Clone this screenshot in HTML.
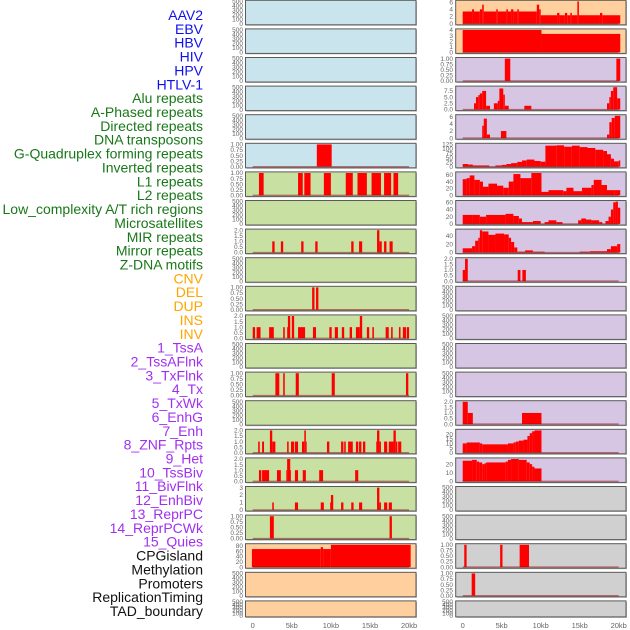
<!DOCTYPE html>
<html><head><meta charset="utf-8">
<style>
html,body{margin:0;padding:0;background:#fff;}
svg{display:block;font-family:"Liberation Sans",sans-serif;}
</style></head>
<body>
<svg id="chart" width="630" height="630" viewBox="0 0 630 630" xmlns="http://www.w3.org/2000/svg"></svg>
<script>
// ---- data (kb start, kb end, value) ----
const trackLabels = ["AAV2","EBV","HBV","HIV","HPV","HTLV-1","Alu repeats","A-Phased repeats","Directed repeats","DNA transposons","G-Quadruplex forming repeats","Inverted repeats","L1 repeats","L2 repeats","Low_complexity A/T rich regions","Microsatellites","MIR repeats","Mirror repeats","Z-DNA motifs","CNV","DEL","DUP","INS","INV","1_TssA","2_TssAFlnk","3_TxFlnk","4_Tx","5_TxWk","6_EnhG","7_Enh","8_ZNF_Rpts","9_Het","10_TssBiv","11_BivFlnk","12_EnhBiv","13_ReprPC","14_ReprPCWk","15_Quies","CPGisland","Methylation","Promoters","ReplicationTiming","TAD_boundary"];
const labelColors = ["#1010ee","#1010ee","#1010ee","#1010ee","#1010ee","#1010ee","#187818","#187818","#187818","#187818","#187818","#187818","#187818","#187818","#187818","#187818","#187818","#187818","#187818","#ffa500","#ffa500","#ffa500","#ffa500","#ffa500","#a030f0","#a030f0","#a030f0","#a030f0","#a030f0","#a030f0","#a030f0","#a030f0","#a030f0","#a030f0","#a030f0","#a030f0","#a030f0","#a030f0","#a030f0","#111","#111","#111","#111","#111"];
const xTickValues = [0,5,10,15,20];
const xTickLabels = ["0","5kb","10kb","15kb","20kb"];

const L5 = [[8.2,10.1,1]];
const L6 = [[0.8,1.4,1],[5.8,6.4,1],[6.6,7.4,1],[9.1,10,1],[11.9,12.8,1],[13.4,14.6,1],[15.2,16.4,1],[16.8,17.7,1],[18,18.6,1]];
const L8 = [[2.5,2.8,1],[3.6,3.9,1],[6.2,6.5,1],[8,8.3,1],[12.6,12.9,1],[13.6,14,1],[15.9,16.2,2],[16.2,16.5,1],[16.8,17.1,1],[17.5,17.9,1]];
const L10 = [[7.6,7.9,1],[8.1,8.4,1]];
const L11 = [[0,0.3,1],[0.5,1,1],[2.1,2.7,1],[3.9,4.1,1],[4.4,4.5,1],[4.5,4.8,2],[5,5.3,2],[5.8,6.7,1],[7.7,8.1,1],[9.8,10.1,1],[10.5,10.9,1],[11.4,11.7,1],[12.4,12.7,1],[13.2,13.7,1],[13.7,14,2],[14.6,14.9,1],[15.3,15.5,1],[17,17.4,1],[17.7,17.9,1],[18.7,18.9,1],[19.2,19.6,1],[19.7,20,1]];
const L13 = [[2.9,3.4,1],[3.9,4.1,1],[5.5,5.9,1],[10.1,10.5,1],[19.6,19.9,1]];
const L15 = [[0.7,0.9,1],[1.2,1.45,1],[2.2,2.5,2],[2.5,2.9,1],[4.4,4.6,1],[4.9,5.3,1],[5.4,5.8,1],[6.3,6.6,1],[6.6,6.8,2],[6.8,6.9,1],[9.5,9.8,1],[11.3,11.6,1],[11.7,11.9,1],[12.2,12.8,1],[13.2,13.5,1],[13.6,13.9,1],[14.1,14.4,1],[15.8,15.9,1],[15.9,16.2,2],[16.2,16.4,1],[16.8,17.2,1],[17.4,18,1],[18,18.3,2],[18.3,18.5,1],[18.6,19,1]];
const L16 = [[0.8,1.1,1],[1.2,2.1,1],[3.1,3.6,1],[4.3,4.4,1],[4.4,4.8,2],[4.8,4.9,1],[5.4,5.8,1],[6.4,6.8,1],[8.5,9,1],[13.1,13.5,1]];
const L17 = [[2.5,2.7,1],[5.4,5.8,1],[8.7,9.1,1],[9.9,10,1],[10,10.3,2],[11.3,11.6,1],[12.6,12.9,1],[13.6,14,1],[15.9,16.2,3],[16.2,16.4,1],[16.8,17.2,1],[17.4,17.8,1]];
const L18 = [[2.2,2.7,1],[17.5,17.8,1]];
const L19 = [[-0.1,8.7,68],[8.7,9.0,75],[9.0,10,68],[10,20.2,84]];

const R0 = [[0,1.2,3.4],[1.2,1.45,4],[1.45,2.2,3.4],[2.2,2.5,4],[2.5,2.7,5.3],[2.7,4.3,3.4],[4.3,4.5,4],[4.5,5.6,3.4],[5.6,5.8,4],[5.8,6.2,3.4],[6.2,6.5,4],[6.5,7,3.4],[7,7.2,4],[7.2,9.5,3.4],[9.5,9.8,5.3],[9.8,10,4],[10,12.1,2.35],[12.1,12.4,3],[12.4,13.1,2.35],[13.1,13.4,3],[13.4,13.8,2.35],[13.8,14,3],[14,14.7,2.35],[14.7,14.9,6.2],[14.9,17.6,2.35],[17.6,17.9,3],[17.9,20.2,2.35]];
const R1 = [[0,10.1,4],[10.1,20.2,3.3]];
const R2 = [[5.4,6.1,1],[19.7,20.2,1]];
const R3 = [[1.45,1.7,2.5],[1.7,2,5],[2,2.2,5.8],[2.2,2.5,6.5],[2.5,3,7.5],[3,3.5,1.5],[4,4.5,2.5],[4.5,4.7,3.5],[4.7,5.2,8.5],[5.2,5.4,6],[5.4,5.9,1.5],[7.9,8.8,1.5],[18.5,18.8,2.5],[18.8,19,5],[19,19.3,7.5],[19.3,19.8,9],[19.8,20.2,4.5]];
const R4 = [[2.5,2.7,3.5],[2.7,3.1,5.5],[3.1,3.5,1],[4.9,5.6,2],[18.5,18.8,1],[18.8,19.1,4.5],[19.1,19.5,5.7],[19.5,20.2,6.3]];
const R5 = [[0,0.7,15],[0.7,1.3,12],[1.3,3.4,7],[4.2,5,7],[5,5.6,10],[5.6,6.2,15],[6.2,7,20],[7,7.6,27],[7.6,8.2,35],[8.2,9.2,40],[9.2,10,32],[10,10.6,28],[10.6,12,118],[12,13,120],[13,14,112],[14,15,118],[15,16,110],[16,17,105],[17,18,95],[18,18.5,88],[18.5,19,70],[19,19.4,45],[19.4,20,30],[20,20.2,35]];
const R6 = [[0,0.5,47],[0.5,0.9,50],[0.9,1.5,58],[1.5,2.2,45],[2.2,2.6,40],[2.6,3.3,25],[3.3,4.4,34],[4.4,5.2,28],[5.2,5.9,22],[5.9,6.5,40],[6.5,7.4,62],[7.4,8.8,50],[8.8,10.1,65],[10.1,11,10],[11,12.9,15],[12.9,13.3,12],[13.3,14.2,22],[14.2,15.3,12],[15.3,16.5,22],[16.5,16.8,30],[16.8,17.8,45],[17.8,18.5,30],[18.5,19.5,15],[19.5,20.2,15]];
const R7 = [[0,1.2,25],[1.2,2.2,25],[2.2,3,20],[3,5.5,25],[5.5,6.5,28],[6.5,7.2,22],[7.2,7.6,15],[7.6,9,5],[9,10,8],[10.5,11,5],[11,12,10],[12,12.8,5],[14.8,15.2,10],[15.2,15.8,15],[15.8,16.5,12],[16.5,17.5,10],[17.5,17.9,5],[18.3,18.7,8],[18.7,19,20],[19,19.3,40],[19.3,19.6,60],[19.6,19.9,62],[19.9,20.2,45]];
const R8 = [[0,1.2,10],[1.2,1.6,15],[1.6,2,28],[2,2.2,35],[2.2,2.5,53],[2.5,3.3,50],[3.3,4.2,42],[4.2,5.3,45],[5.3,5.9,43],[5.9,6.2,35],[6.2,6.6,25],[6.6,7,12],[7,8,2],[8,9,5],[9,10.5,2],[15,16.3,2],[16.3,18.5,3],[18.5,19,8],[19,19.8,15],[19.8,20.2,20]];
const R9 = [[0,0.3,1],[0.3,0.65,2],[7.05,7.4,1],[7.65,8.1,1]];
const R14 = [[0,0.65,2],[0.65,1.3,1],[7.6,10.1,1]];
const R15 = [[0,0.5,10],[0.5,2.2,11],[2.2,2.5,10],[2.5,5.8,9],[5.8,6.5,10],[6.5,6.8,11],[6.8,7.2,12],[7.2,7.8,13],[7.8,8.3,14],[8.3,8.6,18],[8.6,8.9,21],[8.9,9.2,23],[9.2,10.1,24]];
const R16 = [[0,1.2,24],[1.2,1.8,25],[1.8,2.1,23],[2.1,2.5,22],[2.5,2.8,20],[2.8,3,21],[3,5.5,22],[5.5,5.8,23],[5.8,6.2,25],[6.2,7.2,26],[7.2,8.2,25],[8.2,8.6,22],[8.6,8.9,20],[8.9,9.2,17],[9.2,10.1,15]];
const R19 = [[0.2,0.5,1],[4.8,5.1,1],[7.3,8.5,1]];
const R20 = [[1.15,1.6,1]];

const T01 = [0,0.25,0.5,0.75,1];
const T02 = [0,0.5,1,1.5,2];
const T500 = [0,100,200,300,400,500];

// panel specs: [segments, ticks, tickFormatDecimals]
const leftPanels = [
 [null,T500],[null,T500],[null,T500],[null,T500],[null,T500],[L5,T01,2],[L6,T01,2],[null,T500],[L8,T02,1],[null,T500],[L10,T01,2],[L11,T02,1],[null,T500],[L13,T01,2],[null,T500],[L15,T02,1],[L16,T02,1],[L17,[0,1,2,3],0],[L18,T01,2],[L19,[0,20,40,60,80],0],[null,T500],[null,T500]];
const rightPanels = [
 [R0,[0,2,4,6],0],[R1,[0,1,2,3,4],0],[R2,T01,2],[R3,[0,2.5,5,7.5],1],[R4,[0,2,4,6],0],[R5,[0,25,50,75,100,125],0],[R6,[0,20,40,60],0],[R7,[0,20,40,60],0],[R8,[0,20,40],0],[R9,T02,1],[null,T500],[null,T500],[null,T500],[null,T500],[R14,T02,1],[R15,[0,5,10,15,20],0],[R16,[0,10,20],0],[null,T500],[null,T500],[R19,T01,2],[R20,T01,2],[null,T500]];
const leftBg = ["#c9e4ec","#c9e4ec","#c9e4ec","#c9e4ec","#c9e4ec","#c9e4ec","#c8e1a3","#c8e1a3","#c8e1a3","#c8e1a3","#c8e1a3","#c8e1a3","#c8e1a3","#c8e1a3","#c8e1a3","#c8e1a3","#c8e1a3","#c8e1a3","#c8e1a3","#ffd09d","#ffd09d","#ffd09d"];
const rightBg = ["#ffd09d","#ffd09d","#d7c6e3","#d7c6e3","#d7c6e3","#d7c6e3","#d7c6e3","#d7c6e3","#d7c6e3","#d7c6e3","#d7c6e3","#d7c6e3","#d7c6e3","#d7c6e3","#d7c6e3","#d7c6e3","#d7c6e3","#d0d0d0","#d0d0d0","#d0d0d0","#d0d0d0","#d0d0d0"];

// ---- drawing ----
const NS = "http://www.w3.org/2000/svg";
const svg = document.getElementById("chart");
function mk(tag, attrs, parent){ const e=document.createElementNS(NS,tag); for(const k in attrs) e.setAttribute(k,attrs[k]); (parent||svg).appendChild(e); return e; }

const cols = [
 {x0:245.5, x1:416, zero:252.7, scale:7.82, panels:leftPanels, bg:leftBg, tickX:243, name:"left"},
 {x0:455.7, x1:626, zero:462.7, scale:7.8, panels:rightPanels, bg:rightBg, tickX:453, name:"right"}
];
function rowTop(i){ return 0.3 + 28.6*i; }
function rowH(i){ return i===21 ? 16 : 24.5; }

// labels
trackLabels.forEach((t,i)=>{
  const e = mk("text",{x:203,y:15+13.86*i+5,"text-anchor":"end","font-size":"14",fill:labelColors[i]});
  e.textContent = t;
  
  
});

cols.forEach(c=>{
  const xs = kb => c.zero + kb*c.scale;
  c.panels.forEach((p,i)=>{
    const top=rowTop(i), h=rowH(i), bot=top+h;
    const g = mk("g",{});
    
    
    mk("rect",{x:c.x0+1,y:top+1,width:c.x1-c.x0,height:h,fill:"#bbb"},g);
    const bg = mk("rect",{x:c.x0,y:top,width:c.x1-c.x0,height:h,fill:c.bg[i],stroke:"#5a5a5a","stroke-width":"1"},g);
    
    
    const segs=p[0], ticks=p[1], dec=p[2]||0;
    let ys;
    if(segs){
      const M = Math.max(...ticks.filter(t=>t<=Math.max(...segs.map(s=>s[2]))*1.06), ...segs.map(s=>s[2]));
      const lo=-0.05*M, hi=1.05*M;
      ys = v => bot - (v-lo)/(hi-lo)*h;
      segs.forEach(s=>{
        const r = mk("rect",{x:xs(s[0]),y:ys(s[2]),width:Math.max(0.8,xs(s[1])-xs(s[0])),height:ys(0)-ys(s[2]),fill:"#ff0000"},g);
        
        
      });
      const bl = mk("line",{x1:xs(0),x2:xs(20),y1:ys(0),y2:ys(0),stroke:"rgba(150,20,20,0.55)","stroke-width":"1.3"},g);
      
      
      ticks.forEach(t=>{
        const y=ys(t); if(y<top-3) return;
        const tx = mk("text",{x:c.tickX,y:y+2.2,"text-anchor":"end","font-size":"6.5",fill:"#666"},g);
        tx.textContent = t.toFixed(dec);
        
        
      });
    } else {
      ticks.forEach((t,k)=>{
        const y = bot-1 - k*(h-2)/(ticks.length-1);
        const tx = mk("text",{x:c.tickX,y:y+2.2,"text-anchor":"end","font-size":"6.5",fill:"#666"},g);
        tx.textContent = String(t);
        
        
      });
    }
  });
  xTickValues.forEach((v,k)=>{
    const tx = mk("text",{x:xs(v),y:628,"text-anchor":"middle","font-size":"7.5",fill:"#666"});
    tx.textContent = xTickLabels[k];
    
    
  });
});
</script>
</body></html>
